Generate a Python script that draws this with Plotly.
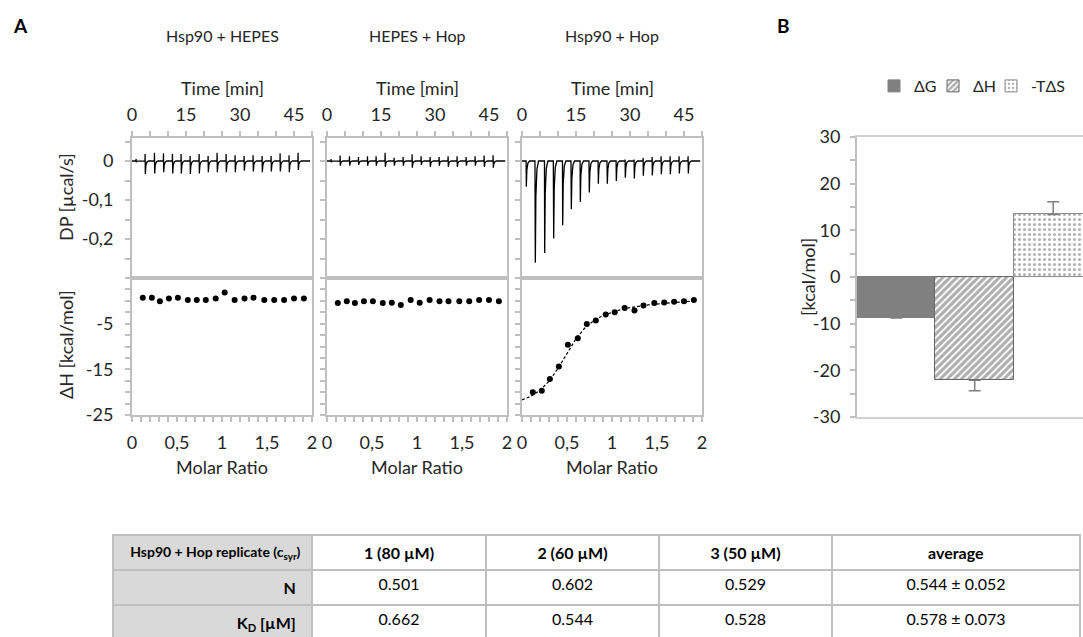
import plotly.graph_objects as go

W, H = 1083, 637

# ---------------- data ----------------
# injection times (min)
inj_time = [1.1, 3.6, 6.2, 8.7, 11.2, 13.6, 16.1, 18.6, 21.1, 23.6, 26.1,
            28.6, 31.1, 33.6, 36.1, 38.6, 41.1, 43.6, 46.1]

# DP peak excursions (µcal/s): upward and downward, per injection
dp_hsp_hepes_up = [0.005, 0.018, 0.021, 0.020, 0.018, 0.018, 0.013, 0.018, 0.013, 0.021,
                   0.018, 0.015, 0.013, 0.015, 0.013, 0.013, 0.020, 0.015, 0.021]
dp_hsp_hepes_dn = [0.003, 0.033, 0.032, 0.029, 0.032, 0.032, 0.033, 0.032, 0.029, 0.029,
                   0.029, 0.029, 0.025, 0.027, 0.029, 0.027, 0.027, 0.029, 0.023]
dp_hepes_hop_up = [0.005, 0.014, 0.012, 0.010, 0.012, 0.012, 0.021, 0.008, 0.010, 0.017,
                   0.012, 0.010, 0.010, 0.012, 0.012, 0.010, 0.012, 0.014, 0.015]
dp_hepes_hop_dn = [0.003, 0.012, 0.012, 0.010, 0.012, 0.012, 0.015, 0.012, 0.012, 0.017,
                   0.010, 0.015, 0.012, 0.015, 0.015, 0.012, 0.012, 0.015, 0.017]
dp_hsp_hop_up = [0.0, 0.0, 0.0, 0.0, 0.0, 0.0, 0.0, 0.0, 0.0, 0.0,
                 0.0, 0.004, 0.004, 0.008, 0.010, 0.012, 0.012, 0.012, 0.012]
dp_hsp_hop_dn = [0.066, 0.261, 0.236, 0.199, 0.165, 0.124, 0.105, 0.081, 0.058, 0.058,
                 0.051, 0.043, 0.045, 0.038, 0.037, 0.034, 0.034, 0.032, 0.032]

# integrated heats (kcal/mol) vs molar ratio
molar_ratio = [0.12, 0.22, 0.31, 0.41, 0.51, 0.62, 0.72, 0.82, 0.93, 1.03,
               1.14, 1.25, 1.35, 1.47, 1.58, 1.69, 1.80, 1.91]
dh_hsp_hepes = [0.7, 0.7, -0.1, 0.5, 0.7, 0.2, 0.2, 0.2, 0.5, 1.8,
                0.2, 0.5, 0.7, 0.2, 0.2, 0.2, 0.5, 0.5]
dh_hepes_hop = [-0.5, -0.1, -0.5, -0.1, -0.1, -0.5, -0.4, -0.9, 0.2, -0.4,
                0.2, -0.1, -0.1, -0.1, -0.1, 0.2, 0.2, -0.1]
dh_hsp_hop = [-20.0, -19.7, -17.1, -14.4, -9.6, -8.2, -5.1, -4.3, -3.0, -2.5,
              -1.55, -2.1, -1.0, -0.5, -0.35, -0.2, -0.1, 0.2]

# fitted binding curve
fit_ratio = [0.0, 0.1, 0.2, 0.3, 0.4, 0.5, 0.6, 0.7, 0.8, 0.9, 1.0, 1.1, 1.2, 1.4, 1.6, 1.8, 1.93]
fit_dh = [-21.7, -20.9, -19.6, -17.6, -14.8, -11.4, -8.3, -5.9, -4.3, -3.2, -2.5, -1.9,
          -1.5, -0.9, -0.5, -0.2, 0.0]

panel_titles = ["Hsp90 + HEPES", "HEPES + Hop", "Hsp90 + Hop"]

# thermodynamic signature (kcal/mol)
bar_names = ["ΔG", "ΔH", "-TΔS"]
bar_values = [-8.7, -22.1, 13.4]
bar_err_plus = [0.0, 0.0, 2.7]
bar_err_minus = [0.1, 2.3, 0.0]
bar_ticks = [-30, -20, -10, 0, 10, 20, 30]

# table
table_header = ["<b>Hsp90 + Hop replicate (c<sub>syr</sub>)</b>\u00a0", "<b>1 (80 µM)</b>",
                "<b>2 (60 µM)</b>", "<b>3 (50 µM)</b>", "<b>average</b>"]
table_rowlabels = ["<b>N</b>\u00a0\u00a0", "<b>K<sub>D</sub> [µM]</b>\u00a0\u00a0"]
table_rep1 = ["0.501", "0.662"]
table_rep2 = ["0.602", "0.544"]
table_rep3 = ["0.529", "0.528"]
table_avg = ["0.544 ± 0.052", "0.578 ± 0.073"]

# ---------------- helpers ----------------
FONT = "Lato"
TXT = "#262626"
FRAME = "#bfbfbf"


def px(x):
    return x / W


def py(y):
    return 1 - y / H


def thermogram(times, up, dn):
    t, y = [0.0], [0.0]
    for ti, u, d in zip(times, up, dn):
        t += [ti, ti + 0.04, ti + 0.1, ti + 0.25, ti + 0.55, ti + 1.0]
        y += [0.0, u, -d, -0.35 * d, -0.08 * d, 0.0]
    t.append(49.5)
    y.append(0.0)
    return t, y


fig = go.Figure()

panels_x = [(132, 312), (327, 507), (522, 702)]
dp_sets = [(dp_hsp_hepes_up, dp_hsp_hepes_dn), (dp_hepes_hop_up, dp_hepes_hop_dn),
           (dp_hsp_hop_up, dp_hsp_hop_dn)]
dh_sets = [dh_hsp_hepes, dh_hepes_hop, dh_hsp_hop]

minor_style = dict(ticks="outside", ticklen=5, tickcolor=FRAME, tickwidth=1.5)
base_axis = dict(showline=True, linecolor=FRAME, linewidth=2, mirror=True, showgrid=False,
                 zeroline=False, ticks="outside", ticklen=5, tickcolor=FRAME, tickwidth=1.5,
                 tickfont=dict(family=FONT, size=18, color=TXT), fixedrange=True,
                 automargin=False)

layout_axes = {}
annotations = []

for k in range(3):
    ia = 2 * k + 1
    ib = 2 * k + 2
    x0, x1 = panels_x[k]
    t, y = thermogram(inj_time, *dp_sets[k])
    fig.add_trace(go.Scatter(x=t, y=y, mode="lines", line=dict(color="black", width=1.3),
                             xaxis=f"x{ia}", yaxis=f"y{ia}", showlegend=False))
    fig.add_trace(go.Scatter(x=molar_ratio, y=dh_sets[k], mode="markers",
                             marker=dict(color="black", size=6),
                             xaxis=f"x{ib}", yaxis=f"y{ib}", showlegend=False))
    if k == 2:
        fig.add_trace(go.Scatter(x=fit_ratio, y=fit_dh, mode="lines",
                                 line=dict(color="black", width=1.2, dash="3px,2px"),
                                 xaxis=f"x{ib}", yaxis=f"y{ib}", showlegend=False))

    dom_x = [px(x0), px(x1)]
    layout_axes[f"xaxis{ia}"] = dict(base_axis, domain=dom_x, anchor=f"y{ia}", side="top",
                                     range=[0, 50], tickvals=[0, 15, 30, 45],
                                     ticklabelstandoff=3,
                                     minor=dict(minor_style, dtick=5, tick0=0))
    layout_axes[f"yaxis{ia}"] = dict(base_axis, domain=[py(278), py(138)], anchor=f"x{ia}",
                                     range=[-0.3, 0.059], tickvals=[0, -0.1, -0.2],
                                     ticktext=["0", "-0,1", "-0,2"], showticklabels=(k == 0),
                                     ticklabelstandoff=8,
                                     minor=dict(minor_style, dtick=0.05, tick0=0))
    layout_axes[f"xaxis{ib}"] = dict(base_axis, domain=dom_x, anchor=f"y{ib}", side="bottom",
                                     range=[0, 2], tickvals=[0, 0.5, 1, 1.5, 2],
                                     ticktext=["0", "0,5", "1", "1,5", "2"],
                                     ticklabelstandoff=5,
                                     minor=dict(minor_style, dtick=0.1, tick0=0))
    layout_axes[f"yaxis{ib}"] = dict(base_axis, domain=[py(415), py(278)], anchor=f"x{ib}",
                                     range=[-25, 5], tickvals=[-5, -15, -25],
                                     ticktext=[str(v) for v in [-5, -15, -25]],
                                     showticklabels=(k == 0), ticklabelstandoff=8,
                                     minor=dict(minor_style, dtick=2.5, tick0=-25))
    cx = (x0 + x1) / 2
    annotations.append(dict(text=panel_titles[k], x=px(cx), y=py(35)))
    annotations.append(dict(text="Time [min]", x=px(cx), y=py(88), font=dict(family=FONT, size=18, color=TXT)))
    annotations.append(dict(text="Molar Ratio", x=px(cx), y=py(467), font=dict(family=FONT, size=18, color=TXT)))

annotations.append(dict(text="DP [µcal/s]", x=px(66), y=py(197), textangle=-90,
                        font=dict(family=FONT, size=18, color=TXT)))
annotations.append(dict(text="ΔH [kcal/mol]", x=px(66), y=py(345), textangle=-90,
                        font=dict(family=FONT, size=18, color=TXT)))
annotations.append(dict(text="[kcal/mol]", x=px(808), y=py(277), textangle=-90,
                        font=dict(family=FONT, size=18, color=TXT)))
annotations.append(dict(text="<b>A</b>", x=px(20), y=py(25), font=dict(family=FONT, size=19, color="black")))
annotations.append(dict(text="<b>B</b>", x=px(783), y=py(25), font=dict(family=FONT, size=19, color="black")))

for a in annotations:
    a.setdefault("font", dict(family=FONT, size=16, color=TXT))
    a.update(xref="paper", yref="paper", showarrow=False, xanchor="center", yanchor="middle")

# ---------------- bar chart B ----------------
bar_markers = [
    dict(color="#808080", line=dict(color="#808080", width=1)),
    dict(color="white", line=dict(color="#666666", width=1),
         pattern=dict(shape="/", fgcolor="#5c5c5c", bgcolor="white", size=5, solidity=0.62)),
    dict(color="white", line=dict(color="#8c8c8c", width=1),
         pattern=dict(shape=".", fgcolor="#6a6a6a", bgcolor="white", size=5, solidity=0.3)),
]
legend_ids = ["legend", "legend2", "legend3"]
legend_left = [874, 933, 991]  # pixel x of each legend entry
for name, v, ep, em, mk, lid in zip(bar_names, bar_values, bar_err_plus, bar_err_minus,
                                    bar_markers, legend_ids):
    fig.add_trace(go.Bar(x=[0], y=[v], name=name, marker=mk, xaxis="x7", yaxis="y7",
                         legend=lid,
                         error_y=dict(type="data", symmetric=False, array=[ep], arrayminus=[em],
                                      color="#7f7f7f", thickness=1.5, width=6)))

layout_axes["xaxis7"] = dict(domain=[px(857), 1.0], anchor="y7", range=[-0.5, 0.46],
                             showline=True, mirror=True, linecolor="#d0d0d0", linewidth=1.5,
                             showgrid=False, zeroline=False, showticklabels=False, ticks="",
                             fixedrange=True, automargin=False)
layout_axes["yaxis7"] = dict(domain=[py(417), py(137)], anchor="x7", range=[-30, 30],
                             tickvals=bar_ticks, ticktext=[str(v) for v in bar_ticks],
                             showline=True,
                             linecolor=FRAME, linewidth=2, showgrid=False, zeroline=False,
                             ticks="outside", ticklen=5, tickcolor=FRAME, tickwidth=1.5,
                             ticklabelstandoff=6,
                             tickfont=dict(family=FONT, size=18, color=TXT),
                             minor=dict(minor_style, dtick=5, tick0=0),
                             fixedrange=True, automargin=False)

legends = {}
for lid, lx in zip(legend_ids, legend_left):
    legends[lid] = dict(orientation="h", x=px(lx), xanchor="left", y=py(86), yanchor="middle",
                        font=dict(family=FONT, size=16, color=TXT), itemwidth=30,
                        bgcolor="rgba(0,0,0,0)", borderwidth=0)

# ---------------- table ----------------
fig.add_trace(go.Table(
    domain=dict(x=[px(113), px(1080)], y=[0, py(535)]),
    columnwidth=[199, 174, 173, 173, 248],
    header=dict(values=table_header, height=34,
                fill=dict(color=["#d9d9d9", "white"]),
                line=dict(color=FRAME, width=2),
                align=["right", "center"],
                font=dict(family=FONT, size=[14, 16], color="black")),
    cells=dict(values=[table_rowlabels, table_rep1, table_rep2, table_rep3, table_avg],
               height=34,
               fill=dict(color=["#d9d9d9", "white"]),
               line=dict(color=FRAME, width=2),
               align=["right", "center"],
               font=dict(family=FONT, size=16, color="black")),
))

fig.update_layout(
    width=W, height=H, margin=dict(l=0, r=0, t=0, b=0, autoexpand=False),
    paper_bgcolor="white", plot_bgcolor="white",
    barmode="group", bargap=0, bargroupgap=0,
    showlegend=True,
    annotations=annotations,
    **legends,
    **layout_axes,
)

fig.write_html("out.html")
